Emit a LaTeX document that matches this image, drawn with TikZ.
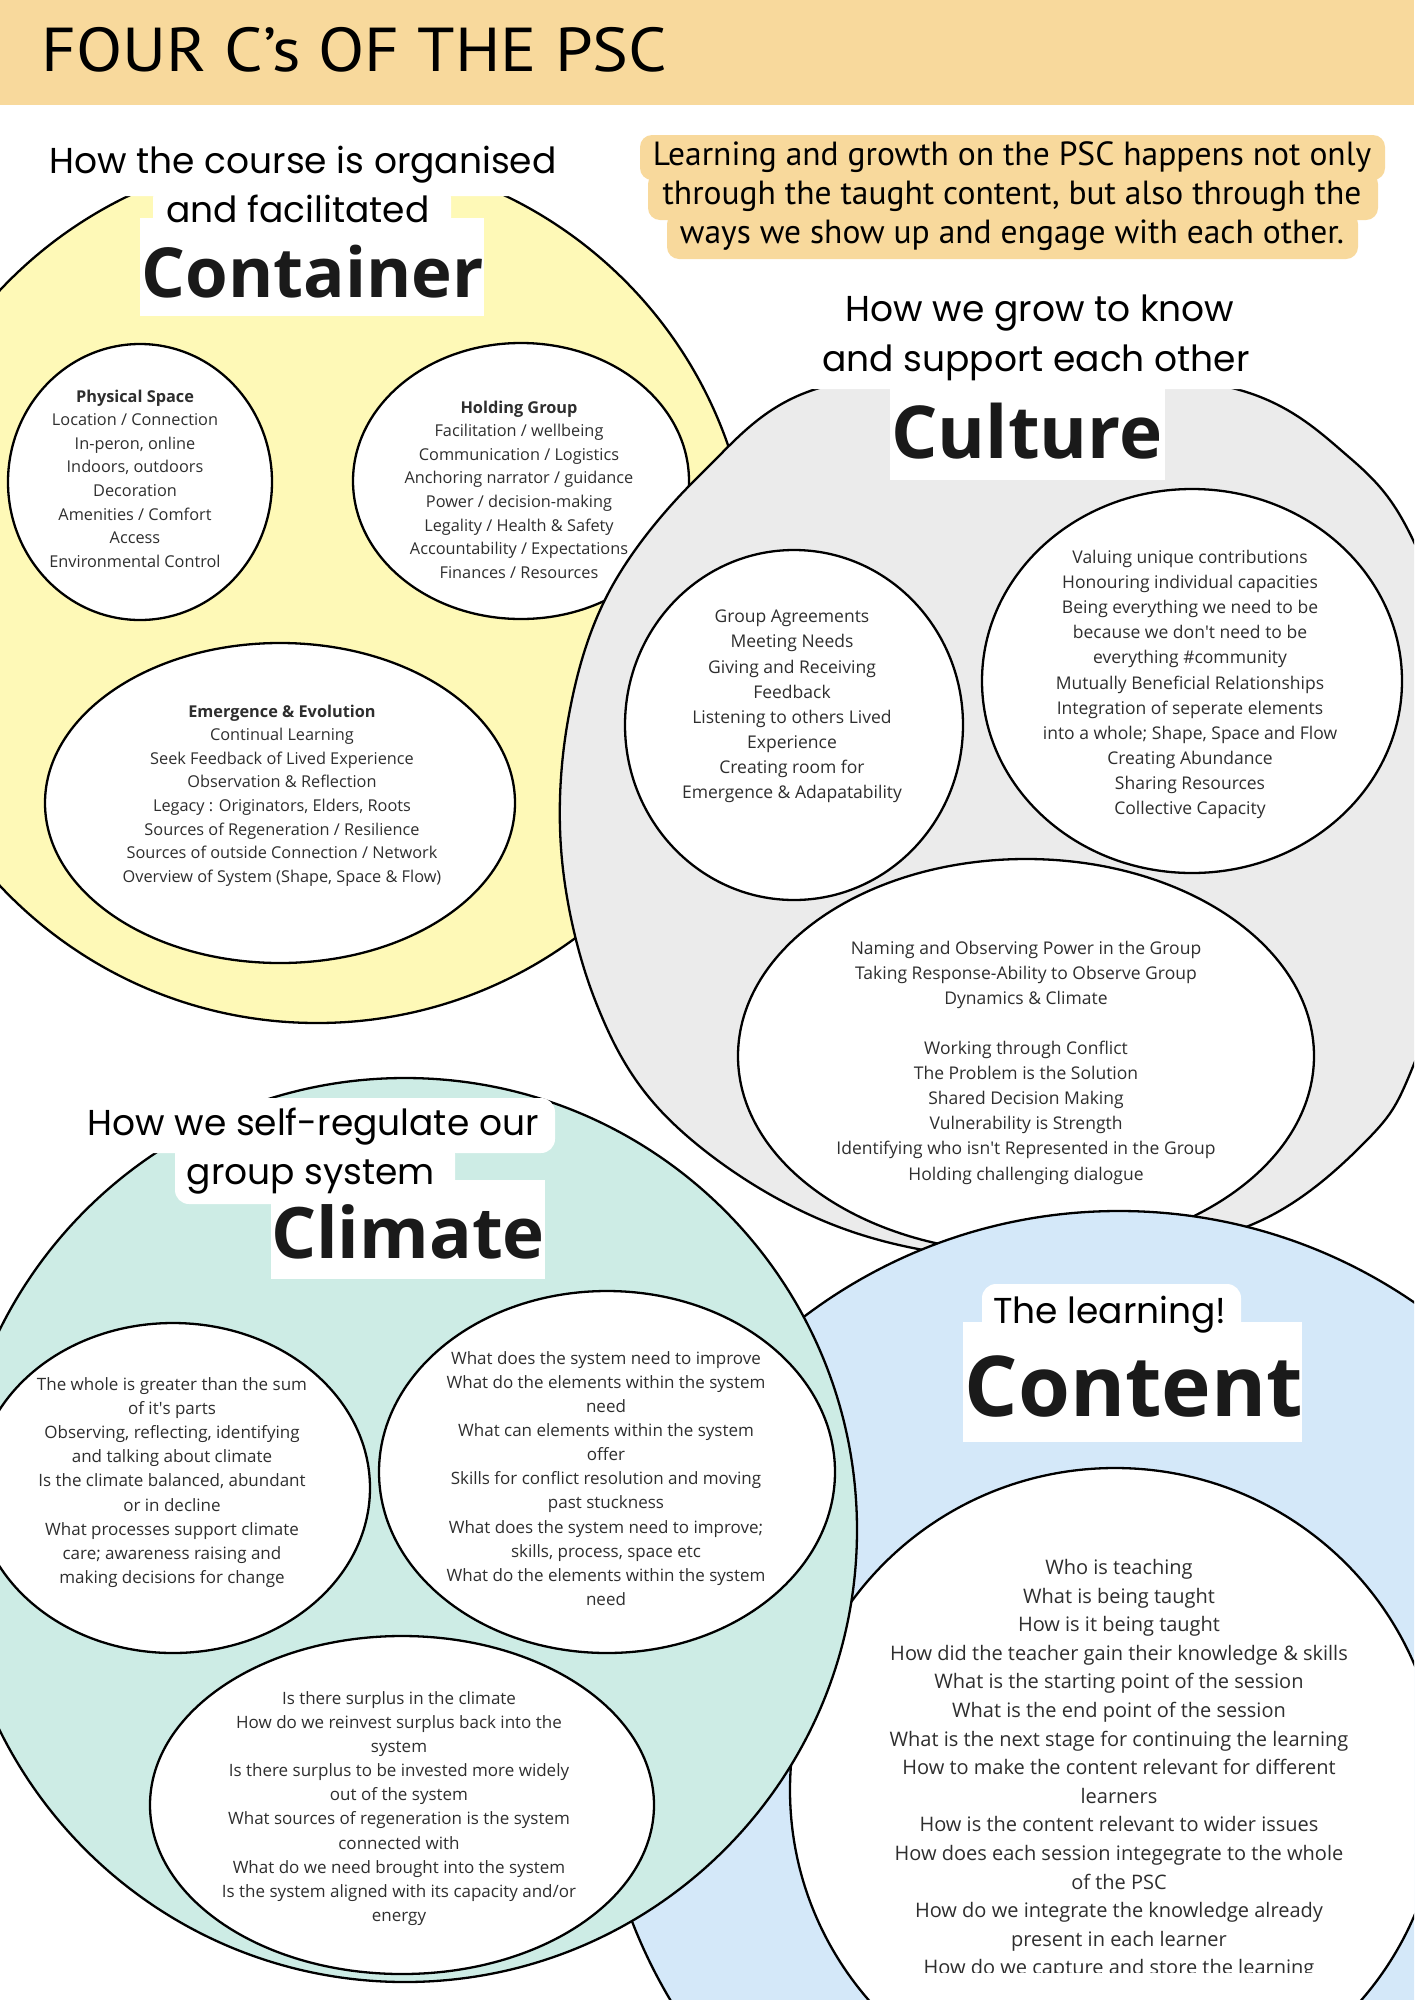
\documentclass[tikz,border=0pt]{standalone}
\usepackage{fontspec}
\setmainfont{Open Sans}
\newfontfamily\labelfont{Poppins}
\newfontfamily\titlefont{PT Sans}
\definecolor{headerc}{HTML}{F8D99C}
\definecolor{yellowc}{HTML}{FEF9B7}
\definecolor{grayc}{HTML}{EBEBEB}
\definecolor{mintc}{HTML}{CDECE5}
\definecolor{bluec}{HTML}{D4E8F9}
\definecolor{txt}{HTML}{2E2E2E}
\definecolor{headc}{HTML}{1A1A1A}
\tikzset{
  bigc/.style={draw=black, line width=2.3pt},
  bubble/.style={draw=black, line width=2.3pt, fill=white},
  wbox/.style={fill=white, rounded corners=14pt},
  wsq/.style={fill=white},
  pbox/.style={fill=headerc, rounded corners=12pt},
  lbl/.style={font=\labelfont\fontsize{36}{42}\selectfont, anchor=base, inner sep=0pt, text=black},
  info/.style={font=\titlefont\fontsize{33.5}{40}\selectfont, anchor=base, inner sep=0pt, text=black},
  head/.style={font=\bfseries\fontsize{71}{80}\selectfont, anchor=base, inner sep=0pt, text=headc},
  bodytext/.style={align=center, inner sep=0pt, text=txt, yshift=-2.5pt},
  ctext/.style={bodytext, font=\fontsize{16.3}{23.6}\selectfont},
  utext/.style={bodytext, font=\fontsize{17.5}{25.1}\selectfont},
  mtext/.style={bodytext, font=\fontsize{17}{24.1}\selectfont},
  ntext/.style={bodytext, font=\fontsize{20}{28.6}\selectfont},
}
\begin{document}
\begin{tikzpicture}[x=1pt,y=-1pt,line join=round]
\useasboundingbox (0,0) rectangle (1414,2000);
\clip (0,0) rectangle (1414,2000);
\fill[white] (0,0) rectangle (1414,2000);

% ---------- header ----------
\fill[headerc] (0,0) rectangle (1414,105);
\node[anchor=base west, inner sep=0pt, font=\titlefont\fontsize{62}{70}\selectfont] (title) at (41,71) {\scalebox{1.09}[1]{FOUR C’s OF THE PSC}};

% ---------- info box ----------
\fill[pbox] (640,135) rectangle (1385,180);
\fill[pbox] (648,172) rectangle (1378,220);
\fill[pbox] (667,212) rectangle (1358,259);
\node[info] (info1) at (1012,165) {Learning and growth on the PSC happens not only};
\node[info] (info2) at (1012,204) {through the taught content, but also through the};
\node[info] (info3) at (1012,243) {ways we show up and engage with each other.};

% ---------- CONTAINER ----------
\filldraw[bigc, fill=yellowc] (317,588) circle [radius=435pt];
\fill[wbox] (40,136) rectangle (566,196);
\fill[wbox] (153,185) rectangle (451,240);
\fill[wsq] (140,218) rectangle (484,316);
\node[lbl] (contl1) at (303,173) {How the course is organised};
\node[lbl] (contl2) at (298,222) {and facilitated};
\node[head, font=\bfseries\fontsize{69}{80}\selectfont] (conth) at (313,297) {Container};

\filldraw[bubble] (140,482) ellipse [x radius=132pt, y radius=138pt];
\node[ctext] (phys) at (135,476) {\textbf{Physical Space}\\Location / Connection\\In-peron, online\\Indoors, outdoors\\Decoration\\Amenities / Comfort\\Access\\Environmental Control};

\filldraw[bubble] (521,481) ellipse [x radius=168pt, y radius=138pt];
\node[ctext] (hold) at (519,487) {\textbf{Holding Group}\\Facilitation / wellbeing\\Communication / Logistics\\Anchoring narrator / guidance\\Power / decision-making\\Legality / Health \& Safety\\Accountability / Expectations\\Finances / Resources};

\filldraw[bubble] (280,803) ellipse [x radius=235pt, y radius=160pt];
\node[ctext] (emer) at (282,793) {\textbf{Emergence \& Evolution}\\Continual Learning\\Seek Feedback of Lived Experience\\Observation \& Reflection\\Legacy : Originators, Elders, Roots\\Sources of Regeneration / Resilience\\Sources of outside Connection / Network\\Overview of System (Shape, Space \& Flow)};

% ---------- CULTURE ----------
\filldraw[bigc, fill=grayc] plot[smooth cycle, tension=0.6] coordinates {
  (1025,372) (1236,389) (1350,458) (1414,542) (1465,700) (1465,900) (1414,1064)
  (1367,1140) (1260,1221) (1100,1262) (918,1249) (780,1200) (660,1110) (595,1000)
  (562,860) (568,720) (610,590) (700,475) (816,389)};
\fill[wbox] (800,280) rectangle (1262,389);
\fill[wsq] (890,389) rectangle (1165,480);
\node[lbl] (cultl1) at (1040,321) {How we grow to know};
\node[lbl] (cultl2) at (1036,371) {and support each other};
\node[head, font=\bfseries\fontsize{73}{80}\selectfont] (culth) at (1027,458) {Culture};

\filldraw[bubble] (794,725) ellipse [x radius=169pt, y radius=175pt];
\node[utext] (agree) at (792,704) {Group Agreements\\Meeting Needs\\Giving and Receiving\\Feedback\\Listening to others Lived\\Experience\\Creating room for\\Emergence \& Adapatability};

\filldraw[bubble] (1192,681) ellipse [x radius=210pt, y radius=192pt];
\node[utext] (valu) at (1190,682) {Valuing unique contributions\\Honouring individual capacities\\Being everything we need to be\\because we don\textquotesingle t need to be\\everything \#community\\Mutually Beneficial Relationships\\Integration of seperate elements\\into a whole; Shape, Space and Flow\\Creating Abundance\\Sharing Resources\\Collective Capacity};

\filldraw[bubble] (1026,1056) ellipse [x radius=288pt, y radius=197pt];
\node[utext] (naming) at (1026,1060) {Naming and Observing Power in the Group\\Taking Response-Ability to Observe Group\\Dynamics \& Climate\\[25.1pt]Working through Conflict\\The Problem is the Solution\\Shared Decision Making\\Vulnerability is Strength\\Identifying who isn\textquotesingle t Represented in the Group\\Holding challenging dialogue};

% ---------- CONTENT ----------
\filldraw[bigc, fill=bluec] (1119,1733) circle [radius=522pt];
\fill[wbox] (982,1284) rectangle (1241,1345);
\fill[wsq] (963,1322) rectangle (1302,1442);
\node[lbl] (contentl) at (1110,1323) {The learning!};
\node[head, font=\bfseries\fontsize{84}{90}\selectfont] (contenth) at (1134,1416) {Content};
\filldraw[bubble] (1115,1790) ellipse [x radius=325pt, y radius=322pt];
\begin{scope}
\clip (0,0) rectangle (1414,1972);
\node[ntext] (learn) at (1119,1767) {Who is teaching\\What is being taught\\How is it being taught\\How did the teacher gain their knowledge \& skills\\What is the starting point of the session\\What is the end point of the session\\What is the next stage for continuing the learning\\How to make the content relevant for different\\learners\\How is the content relevant to wider issues\\How does each session integegrate to the whole\\of the PSC\\How do we integrate the knowledge already\\present in each learner\\How do we capture and store the learning};
\end{scope}

% ---------- CLIMATE ----------
\filldraw[bigc, fill=mintc] (405,1530) circle [radius=452pt];
\fill[wbox] (75,1098) rectangle (555,1153);
\fill[wbox] (175,1140) rectangle (455,1204);
\fill[wsq] (271,1180) rectangle (545,1279);
\node[lbl] (climl1) at (313,1135) {How we self-regulate our};
\node[lbl] (climl2) at (311,1184) {group system};
\node[head] (climh) at (408,1258) {Climate};

\filldraw[bubble] (173,1488) ellipse [x radius=197pt, y radius=165pt];
\node[mtext] (whole) at (172,1480) {The whole is greater than the sum\\of it\textquotesingle s parts\\Observing, reflecting, identifying\\and talking about climate\\Is the climate balanced, abundant\\or in decline\\What processes support climate\\care; awareness raising and\\making decisions for change};

\filldraw[bubble] (607,1472) ellipse [x radius=228pt, y radius=181pt];
\node[mtext] (need) at (606,1476) {What does the system need to improve\\What do the elements within the system\\need\\What can elements within the system\\offer\\Skills for conflict resolution and moving\\past stuckness\\What does the system need to improve;\\skills, process, space etc\\What do the elements within the system\\need};

\filldraw[bubble] (402,1805) ellipse [x radius=252pt, y radius=169pt];
\node[mtext] (surplus) at (399,1806) {Is there surplus in the climate\\How do we reinvest surplus back into the\\system\\Is there surplus to be invested more widely\\out of the system\\What sources of regeneration is the system\\connected with\\What do we need brought into the system\\Is the system aligned with its capacity and/or\\energy};
\end{tikzpicture}
\end{document}
